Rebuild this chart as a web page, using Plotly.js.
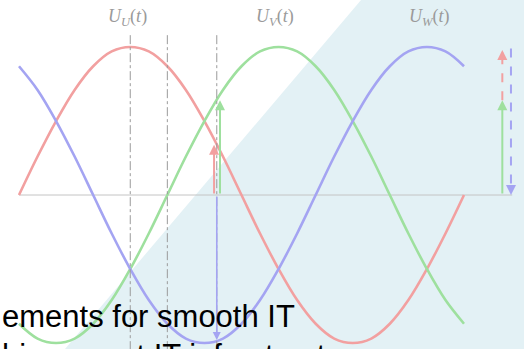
<!DOCTYPE html>
<html><head><meta charset="utf-8">
<script src="https://cdn.plot.ly/plotly-3.0.1.min.js"></script>
<style>html,body{margin:0;padding:0;background:#fff;}#chart{width:524px;height:349px;}</style>
</head><body><div id="chart"></div>
<script>
// phase angle (degrees) samples
const theta = [0,15,30,45,60,75,90,105,120,135,150,165,180,195,210,225,240,255,270,285,300,315,330,345,360];
// normalized voltages
const uU = [0,0.26,0.5,0.71,0.87,0.97,1,0.97,0.87,0.71,0.5,0.26,0,-0.26,-0.5,-0.71,-0.87,-0.97,-1,-0.97,-0.87,-0.71,-0.5,-0.26,0];
const uV = [-0.87,-0.97,-1,-0.97,-0.87,-0.71,-0.5,-0.26,0,0.26,0.5,0.71,0.87,0.97,1,0.97,0.87,0.71,0.5,0.26,0,-0.26,-0.5,-0.71,-0.87];
const uW = [0.87,0.71,0.5,0.26,0,-0.26,-0.5,-0.71,-0.87,-0.97,-1,-0.97,-0.87,-0.71,-0.5,-0.26,0,0.26,0.5,0.71,0.87,0.97,1,0.97,0.87];
// marker lines (degrees)
const markers = [90,120,160];
// instantaneous values at t = 160°
const instTheta = 160;
const instU = 0.34, instV = 0.64, instW = -0.98;
// phasor-sum column position
const sumTheta = 391, sumThetaW = 398;
// labels
const labels = ['<i>U</i><sub><i>U</i></sub>(<i>t</i>)','<i>U</i><sub><i>V</i></sub>(<i>t</i>)','<i>U</i><sub><i>W</i></sub>(<i>t</i>)'];
const labelTheta = [88, 207, 332];
const textLines = ['ements for smooth IT','hievement IT infrastructure'];

const RED='#f2a0a0', GREEN='#9ee09e', BLUE='#a4a4f2';

const mk = (y,c)=>({x:theta,y:y,type:'scatter',mode:'lines',line:{color:c,width:2.6,shape:'spline',smoothing:1},hoverinfo:'skip',showlegend:false});
const traces = [
  {x:[0,399],y:[0,0],type:'scatter',mode:'lines',line:{color:'#c4c4c4',width:1},hoverinfo:'skip',showlegend:false},
  mk(uU,RED), mk(uV,GREEN), mk(uW,BLUE)
];

const shapes = [
  {type:'path',xref:'paper',yref:'paper',path:'M 0.689 1 L 0.124 0 L 1 0 L 1 1 Z',fillcolor:'#e3f1f5',line:{width:0},layer:'below'}
];
markers.forEach(m=>shapes.push({type:'line',x0:m,x1:m,y0:1.08,y1:-1.1,line:{color:'#9a9a9a',width:1,dash:'dashdot'}}));
// dashed phasor segments
const topW = instV + instU;
shapes.push({type:'line',x0:sumTheta,x1:sumTheta,y0:instV,y1:topW-0.06,line:{color:RED,width:2,dash:'dash'}});
shapes.push({type:'line',x0:sumThetaW,x1:sumThetaW,y0:topW+0.01,y1:topW+instW+0.06,line:{color:BLUE,width:2,dash:'dash'}});

const arrow=(x,y0,y1,c,w)=>({x:x,y:y1,ax:x,ay:y0,xref:'x',yref:'y',axref:'x',ayref:'y',text:'',showarrow:true,arrowhead:2,arrowsize:1,arrowwidth:w||2,arrowcolor:c});
const annotations = [
  arrow(instTheta-2.2,0,instU,RED),
  arrow(instTheta+2.6,0,instV,GREEN),
  arrow(instTheta,0,instW,BLUE,1.6),
  arrow(sumTheta,0,instV,GREEN),
  arrow(sumTheta,topW-0.07,topW,RED),
  arrow(sumThetaW,topW+instW+0.07,topW+instW,BLUE)
];
labels.forEach((t,i)=>annotations.push({x:labelTheta[i],y:1.2,xref:'x',yref:'y',text:t,showarrow:false,font:{family:'Liberation Serif, DejaVu Serif, serif',size:18,color:'#9a9a9a'}}));
annotations.push({x:0,y:(349-316)/349,xref:'paper',yref:'paper',xanchor:'left',yanchor:'middle',text:textLines[0],showarrow:false,font:{family:'Liberation Sans, Arial, sans-serif',size:31,color:'#000'}});
annotations.push({x:0,y:(349-355)/349,xref:'paper',yref:'paper',xanchor:'left',yanchor:'middle',text:textLines[1],showarrow:false,font:{family:'Liberation Sans, Arial, sans-serif',size:31,color:'#000'}});

const layout = {
  width:524,height:349,margin:{l:0,r:0,t:0,b:0},
  paper_bgcolor:'#fff',plot_bgcolor:'rgba(0,0,0,0)',
  xaxis:{range:[-15.37,408.54],visible:false,fixedrange:true},
  yaxis:{range:[-1.0405,1.3176],visible:false,fixedrange:true},
  shapes:shapes,annotations:annotations,showlegend:false
};
Plotly.newPlot('chart',traces,layout,{displayModeBar:false,staticPlot:true});
</script></body></html>
